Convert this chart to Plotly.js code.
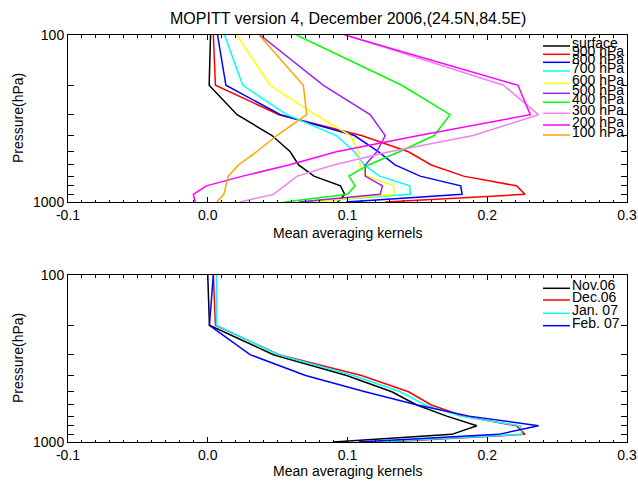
<!DOCTYPE html>
<html><head><meta charset="utf-8">
<script src="https://cdn.plot.ly/plotly-3.0.1.min.js"></script>
<style>html,body{margin:0;padding:0;background:#fff}</style>
</head><body><div id="chart" style="width:638px;height:481px"></div>
<script>
// pressure levels (hPa), surface level first
const pressure = [1000, 900, 800, 700, 600, 500, 400, 300, 200, 100];

// Top panel: mean averaging kernels per retrieval level (December 2006)
const akSurface = [0.093, 0.098, 0.095, 0.076, 0.065, 0.059, 0.046, 0.021, 0.001, 0.002];
const ak900 = [0.127, 0.227, 0.221, 0.183, 0.160, 0.1436, 0.110, 0.051, 0.0055, 0.004];
const ak800 = [0.099, 0.182, 0.181, 0.152, 0.134, 0.122, 0.105, 0.052, 0.013, 0.007];
const ak700 = [0.070, 0.145, 0.1445, 0.123, 0.112, 0.105, 0.092, 0.0565, 0.025, 0.012];
const ak600 = [0.075, 0.1334, 0.133, 0.1137, 0.109, 0.108, 0.102, 0.077, 0.0446, 0.0207];
const ak500 = [0.065, 0.1234, 0.125, 0.1127, 0.1127, 0.121, 0.127, 0.1162, 0.0828, 0.0374];
const ak400 = [0.055, 0.100, 0.1054, 0.101, 0.115, 0.137, 0.162, 0.1734, 0.1388, 0.0635];
const ak300 = [0.023, 0.047, 0.055, 0.064, 0.090, 0.130, 0.190, 0.2366, 0.2116, 0.099];
const ak200 = [-0.009, -0.0103, -0.001, 0.025, 0.058, 0.092, 0.151, 0.2308, 0.222, 0.098];
const ak100 = [0.0065, 0.0115, 0.013, 0.0147, 0.0219, 0.035, 0.0494, 0.0708, 0.0684, 0.0367];

const topNames = ['surface', '900 hPa', '800 hPa', '700 hPa', '600 hPa', '500 hPa', '400 hPa', '300 hPa', '200 hPa', '100 hPa'];
const topSeries = [akSurface, ak900, ak800, ak700, ak600, ak500, ak400, ak300, ak200, ak100];
const topColors = ['#000000', '#ff0000', '#0000ff', '#00ffff', '#ffff00', '#a020f0', '#00ff00', '#ee82ee', '#ff00ff', '#ffa500'];

// Bottom panel: 900 hPa kernel for four months
const akNov06 = [0.090, 0.1747, 0.1926, 0.171, 0.1496, 0.1317, 0.0994, 0.047, 0.0012, 0.000];
const akDec06 = [0.127, 0.227, 0.221, 0.183, 0.160, 0.1436, 0.110, 0.051, 0.0055, 0.004];
const akJan07 = [0.120, 0.2248, 0.2236, 0.1806, 0.1556, 0.1377, 0.104, 0.0505, 0.0062, 0.0062];
const akFeb07 = [0.108, 0.208, 0.2367, 0.187, 0.150, 0.1126, 0.070, 0.0303, 0.0012, 0.004];

const bottomNames = ['Nov.06', 'Dec.06', 'Jan. 07', 'Feb. 07'];
const bottomSeries = [akNov06, akDec06, akJan07, akFeb07];
const bottomColors = ['#000000', '#ff0000', '#00ffff', '#0000ff'];

const xTickVals = [-0.1, 0.0, 0.1, 0.2, 0.3];
const xTickText = ['-0.1', '0.0', '0.1', '0.2', '0.3'];
const yTickVals = [100, 1000];
const yTickText = ['100', '1000'];
const yMinorVals = [200, 300, 400, 500, 600, 700, 800, 900];

// legend line positions (pixels from top of figure)
const topLegendY = [46, 54.3, 62.3, 71, 83.3, 93.3, 102.3, 113.3, 125, 135];
const bottomLegendY = [288.3, 300, 313.3, 325.7];

const FONT = 'Liberation Sans, Arial, sans-serif';
const W = 638, H = 481;
const M = {l: 68, r: 11, t: 35, b: 39};
const plotH = H - M.t - M.b, plotW = W - M.l - M.r;
const py = p => (H - M.b - p) / plotH;   // pixel y -> paper
const px = p => (p - M.l) / plotW;       // pixel x -> paper

const traces = [];
topSeries.forEach((s, i) => traces.push({x: s, y: pressure, mode: 'lines', name: topNames[i],
  line: {color: topColors[i], width: 1.5}, xaxis: 'x', yaxis: 'y', hoverinfo: 'skip'}));
bottomSeries.forEach((s, i) => traces.push({x: s, y: pressure, mode: 'lines', name: bottomNames[i],
  line: {color: bottomColors[i], width: 1.5}, xaxis: 'x2', yaxis: 'y2', hoverinfo: 'skip'}));

function xAxis(anchor) {
  return {anchor: anchor, domain: [0, 1], range: [-0.1, 0.3], tickmode: 'array', tickvals: xTickVals, ticktext: xTickText,
    ticks: 'inside', ticklen: 5, tickcolor: '#000', showline: true, linecolor: '#000', linewidth: 1, mirror: 'ticks',
    showgrid: false, zeroline: false, tickfont: {family: FONT, size: 14, color: '#000'},
    minor: {dtick: 0.01, tick0: 0, ticks: 'inside', ticklen: 2.5, tickcolor: '#000', showgrid: false}};
}
function yAxis(anchor, domain) {
  return {anchor: anchor, domain: domain, type: 'log', range: [3, 2], tickmode: 'array', tickvals: yTickVals, ticktext: yTickText,
    ticks: 'inside', ticklen: 11, tickcolor: '#000', showline: true, linecolor: '#000', linewidth: 1, mirror: 'ticks',
    showgrid: false, zeroline: false, tickfont: {family: FONT, size: 14, color: '#000'},
    minor: {tickmode: 'array', tickvals: yMinorVals, ticks: 'inside', ticklen: 6, tickcolor: '#000', showgrid: false}};
}

const shapes = [], annotations = [];
function legend(names, colors, ys) {
  names.forEach((n, i) => {
    shapes.push({type: 'line', xref: 'paper', yref: 'paper', x0: px(543), x1: px(570), y0: py(ys[i]), y1: py(ys[i]),
      line: {color: colors[i], width: 1.5}});
    annotations.push({xref: 'paper', yref: 'paper', x: px(570), y: py(ys[i] - 3), xanchor: 'left', yanchor: 'middle',
      text: n, showarrow: false, font: {family: FONT, size: 14, color: '#000'}});
  });
}
legend(topNames, topColors, topLegendY);
legend(bottomNames, bottomColors, bottomLegendY);

annotations.push({xref: 'paper', yref: 'paper', x: 0.5, y: py(18), xanchor: 'center', yanchor: 'middle', showarrow: false,
  text: 'MOPITT version 4, December 2006,(24.5N,84.5E)', font: {family: FONT, size: 16, color: '#000'}});
[233, 471].forEach(yy => annotations.push({xref: 'paper', yref: 'paper', x: 0.5, y: py(yy), xanchor: 'center', yanchor: 'middle',
  showarrow: false, text: 'Mean averaging kernels', font: {family: FONT, size: 14, color: '#000'}}));
[118, 358].forEach(yy => annotations.push({xref: 'paper', yref: 'paper', x: px(18), y: py(yy), xanchor: 'center', yanchor: 'middle',
  showarrow: false, textangle: -90, text: 'Pressure(hPa)', font: {family: FONT, size: 14, color: '#000'}}));

const layout = {
  width: W, height: H, margin: M, showlegend: false, paper_bgcolor: '#fff', plot_bgcolor: '#fff',
  xaxis: xAxis('y'), yaxis: yAxis('x', [py(202), 1]),
  xaxis2: xAxis('y2'), yaxis2: yAxis('x2', [0, py(275)]),
  shapes: shapes, annotations: annotations
};
Plotly.newPlot('chart', traces, layout, {staticPlot: true, displayModeBar: false});
</script></body></html>
